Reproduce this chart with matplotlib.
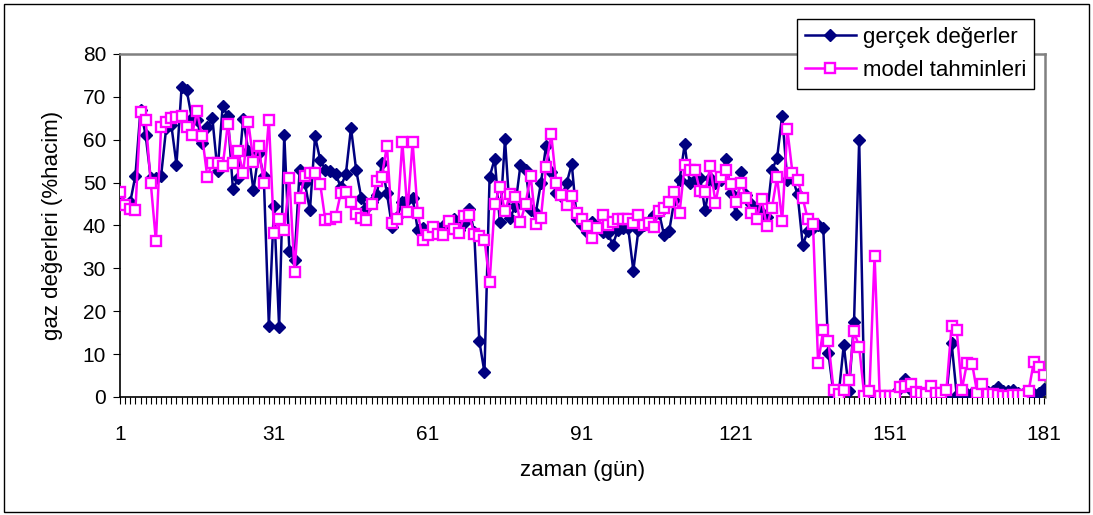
import matplotlib
matplotlib.use("Agg")
import matplotlib.pyplot as plt
from matplotlib.ticker import FixedLocator, MultipleLocator
from matplotlib.patches import Rectangle

plt.rcParams['font.family'] = ['Liberation Sans', 'DejaVu Sans']

days = list(range(1, 182))

gercek = [
    45.6, 44.7, 45.5, 51.6, 67.0, 61.0, 51.0, 51.0, 51.5, 62.8,
    63.4, 54.2, 72.3, 71.5, 65.0, 64.7, 59.3, 63.0, 65.0, 52.6,
    67.8, 65.6, 48.4, 51.1, 64.9, 57.3, 48.2, 56.9, 51.6, 16.6,
    44.5, 16.3, 61.2, 34.0, 32.0, 53.0, 50.0, 43.5, 60.8, 55.3,
    53.0, 52.7, 52.0, 49.0, 52.0, 62.8, 53.0, 46.5, 44.0, 45.5,
    47.0, 54.5, 47.5, 39.7, 42.0, 45.5, 46.0, 46.5, 39.0, 39.4,
    38.3, 39.0, 39.4, 39.8, 41.0, 41.4, 38.9, 40.6, 43.9, 38.6,
    13.0, 5.8, 51.3, 55.6, 40.7, 60.2, 41.8, 44.5, 54.0, 53.0,
    43.7, 42.9, 49.9, 58.6, 52.4, 47.6, 46.8, 49.8, 54.4, 41.4,
    40.2, 38.6, 40.7, 39.8, 38.6, 38.3, 35.5, 39.0, 39.4, 39.4,
    29.5, 39.0, 40.2, 41.0, 42.5, 43.0, 37.7, 38.8, 46.0, 50.5,
    58.9, 49.8, 50.5, 51.0, 43.5, 51.0, 50.0, 50.5, 55.5, 47.5,
    42.7, 52.5, 47.0, 45.0, 44.0, 43.0, 42.0, 52.9, 55.7, 65.6,
    50.5, 51.0, 47.3, 35.5, 38.7, 39.4, 40.0, 39.5, 10.3, 0.8,
    0.5, 12.2, 1.5, 17.5, 60.0, 0.5, 0.5, 0.3, 0.2, 0.2,
    0.3, 1.0, 2.0, 4.2, 1.7, 0.8, 0.5, 0.8, 0.9, 0.8,
    0.5, 0.5, 12.6, 0.5, 0.2, 0.8, 1.0, 0.5, 0.8, 1.2,
    1.5, 2.3, 1.5, 1.3, 1.7, 1.0, 0.8, 0.5, 0.8, 1.0,
    1.8,
]

model = [
    47.8, 44.7, 43.9, 43.5, 66.5, 64.7, 49.8, 36.3, 63.0, 64.1,
    65.0, 65.4, 65.6, 63.0, 61.0, 66.6, 60.8, 51.4, 54.6, 54.6,
    53.8, 63.6, 54.6, 57.3, 52.3, 64.1, 54.9, 58.6, 50.0, 64.7,
    38.3, 41.4, 39.0, 51.0, 29.2, 46.5, 51.6, 52.2, 52.3, 49.7,
    41.2, 41.4, 42.0, 47.5, 47.8, 45.4, 42.7, 41.7, 41.2, 45.0,
    50.3, 51.4, 58.6, 40.6, 41.4, 59.5, 43.2, 59.5, 43.0, 36.6,
    37.8, 39.6, 38.0, 37.9, 41.0, 39.2, 38.3, 42.1, 42.5, 38.1,
    37.5, 36.7, 26.8, 44.9, 49.0, 43.3, 47.4, 46.7, 40.7, 45.1,
    51.6, 40.4, 41.8, 53.7, 61.4, 49.8, 47.2, 44.7, 46.8, 42.8,
    41.4, 39.8, 37.2, 39.4, 42.5, 40.2, 40.7, 41.4, 41.4, 41.4,
    40.6, 42.4, 40.2, 40.6, 39.7, 43.3, 44.1, 45.4, 47.7, 42.9,
    54.0, 52.9, 53.0, 48.0, 47.8, 53.8, 45.3, 51.3, 53.0, 49.7,
    45.4, 50.0, 46.4, 42.9, 41.4, 46.2, 39.8, 44.1, 51.3, 41.1,
    62.5, 52.3, 50.7, 46.4, 41.4, 40.4, 7.9, 15.6, 13.0, 1.7,
    0.8, 1.6, 3.9, 15.3, 11.7, 0.2, 1.3, 33.0, 0.3, 0.3,
    0.3, 0.2, 2.3, 2.5, 3.0, 1.1, 0.9, 0.7, 2.5, 0.9,
    0.9, 1.7, 16.6, 15.7, 1.7, 7.9, 7.8, 0.9, 3.1, 0.8,
    0.8, 0.5, 0.3, 0.3, 0.5, 0.5, 0.5, 1.3, 8.1, 7.0,
    5.2,
]

x_labels = [1, 31, 61, 91, 121, 151, 181]
y_ticks = [0, 10, 20, 30, 40, 50, 60, 70, 80]

fig = plt.figure(figsize=(10.93, 5.15), dpi=100)
fig.patch.set_facecolor('white')
ax = fig.add_axes([120 / 1093, 1 - 397 / 515, 925 / 1093, 343 / 515])

ax.plot(days, gercek, color='#000080', lw=1.8, marker='D', ms=6,
        mfc='#000080', mec='#000080', label='gerçek değerler', zorder=3)
ax.plot(days, model, color='#FF00FF', lw=1.8, marker='s', ms=7,
        mfc='white', mec='#FF00FF', mew=1.7, label='model tahminleri', zorder=4)

ax.set_xlim(1, 181.2)
ax.set_ylim(0, 80)
ax.xaxis.set_major_locator(FixedLocator(x_labels))
ax.xaxis.set_minor_locator(MultipleLocator(1))
ax.set_xticklabels([str(v) for v in x_labels])
ax.set_yticks(y_ticks)

ax.tick_params(axis='x', which='both', direction='out', length=5, width=0.8,
               color='black', labelsize=15, pad=15)
ax.tick_params(axis='y', which='major', direction='out', length=5, width=0.8,
               labelsize=15, pad=5)

for side in ('left', 'bottom'):
    ax.spines[side].set_color('black')
    ax.spines[side].set_linewidth(1.2)
for side in ('top', 'right'):
    ax.spines[side].set_color('#808080')
    ax.spines[side].set_linewidth(1.8)

ax.set_xlabel('zaman (gün)', fontsize=16, labelpad=12)
ax.set_ylabel('gaz değerleri (%hacim)', fontsize=16, labelpad=14)

leg = ax.legend(loc='upper left', bbox_to_anchor=(797 / 1093, 1 - 19 / 515),
                bbox_transform=fig.transFigure, fontsize=16, frameon=True,
                fancybox=False, edgecolor='black', framealpha=1,
                handlelength=2.3, handletextpad=0.3, labelspacing=0.55,
                borderpad=0.35, borderaxespad=0)
leg.get_frame().set_linewidth(1.0)

fig.patches.append(Rectangle((4 / 1093, 3 / 515), 1085 / 1093, 508 / 515,
                             transform=fig.transFigure, fill=False,
                             edgecolor='black', lw=1.0))

fig.savefig('out.png', dpi=100)
